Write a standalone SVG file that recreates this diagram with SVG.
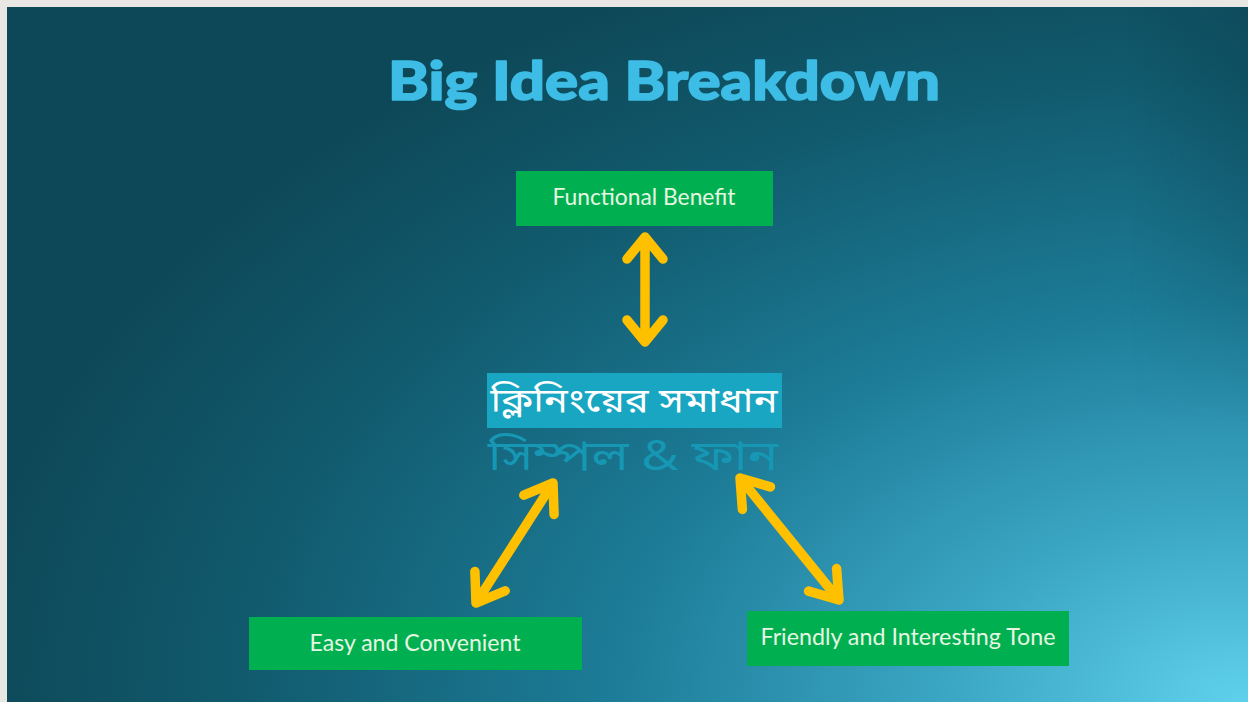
<svg xmlns="http://www.w3.org/2000/svg" width="1248" height="702" viewBox="0 0 1248 702">
  <defs>
    <radialGradient id="bgGlow" gradientUnits="userSpaceOnUse" cx="1240" cy="700" r="800" gradientTransform="translate(1240 700) scale(1.6 1) translate(-1240 -700)">
      <stop offset="0" stop-color="#5fd0ec"/>
      <stop offset="0.22" stop-color="#3ca8c6"/>
      <stop offset="0.5" stop-color="#1c7b96"/>
      <stop offset="0.78" stop-color="#115a6d"/>
      <stop offset="1" stop-color="#0d4858"/>
    </radialGradient>
    <linearGradient id="edgeShade" x1="0" y1="0" x2="1" y2="0">
      <stop offset="0" stop-color="#0c4556" stop-opacity="0"/>
      <stop offset="1" stop-color="#0c4556" stop-opacity="0.55"/>
    </linearGradient>
    <linearGradient id="edgeFade" x1="0" y1="0" x2="0" y2="1">
      <stop offset="0" stop-color="#fff" stop-opacity="1"/>
      <stop offset="0.6" stop-color="#fff" stop-opacity="0"/>
    </linearGradient>
    <mask id="edgeMask">
      <rect x="1130" y="7" width="118" height="695" fill="url(#edgeFade)"/>
    </mask>
  </defs>
  <style>
    .box { fill: #00b050; }
    .label { font-family: Lato, "Open Sans", sans-serif; font-size: 23px; fill: #e6f6e2; text-anchor: middle; }
    .arrow { fill: none; stroke: #ffc000; stroke-width: 9.5; stroke-linecap: round; stroke-linejoin: round; }
  </style>

  <!-- slide frame and backdrop -->
  <rect x="0" y="0" width="1248" height="702" fill="#e9e7e4"/>
  <rect x="7" y="7" width="1241" height="695" fill="url(#bgGlow)"/>
  <rect x="1130" y="7" width="118" height="695" fill="url(#edgeShade)" mask="url(#edgeMask)"/>

  <!-- heading -->
  <text x="664" y="100" font-family="Lato, 'Open Sans', sans-serif" font-weight="900" font-size="54" fill="#3dbde6" stroke="#3dbde6" stroke-width="1.6" stroke-linejoin="round" text-anchor="middle" textLength="552" lengthAdjust="spacingAndGlyphs">Big Idea Breakdown</text>

  <!-- central idea -->
  <g id="core">
    <rect x="487" y="373" width="295" height="55" fill="#19a6c2"/>
    <text x="634" y="412" font-family="'Noto Sans Bengali', 'Noto Sans', sans-serif" font-weight="400" font-size="34" fill="#ffffff" text-anchor="middle" textLength="287" lengthAdjust="spacingAndGlyphs">ক্লিনিংয়ের সমাধান</text>
    <text x="633" y="470" font-family="'Noto Sans Bengali', 'Noto Sans', sans-serif" font-weight="400" font-size="42" fill="#1698b4" text-anchor="middle" textLength="290" lengthAdjust="spacingAndGlyphs">সিম্পল &amp; ফান</text>
  </g>

  <g id="functional-benefit">
    <rect class="box" x="516" y="171" width="257" height="55"/>
    <text class="label" x="644" y="205" textLength="183" lengthAdjust="spacingAndGlyphs">Functional Benefit</text>
  </g>

  <g id="easy-convenient">
    <rect class="box" x="249" y="617" width="333" height="53"/>
    <text class="label" x="415" y="651" textLength="211" lengthAdjust="spacingAndGlyphs">Easy and Convenient</text>
  </g>

  <g id="friendly-tone">
    <rect class="box" x="747" y="611" width="322" height="55"/>
    <text class="label" x="908" y="645" textLength="295" lengthAdjust="spacingAndGlyphs">Friendly and Interesting Tone</text>
  </g>

  <!-- two-headed connectors -->
  <g id="connectors">
    <path class="arrow" d="M645 238 L645 341 M627 259 L645 237 L663 259 M627 320 L645 342 L663 320"/>
    <path class="arrow" d="M553 483 L476 603 M523.8 495.2 L553 483 L554.1 514.6 M474.9 571.4 L476 603 L505.2 590.8"/>
    <path class="arrow" d="M740 478 L839 600 M742.4 509.5 L740 478 L770.4 486.9 M808.6 591.1 L839 600 L836.6 568.5"/>
  </g>
</svg>
